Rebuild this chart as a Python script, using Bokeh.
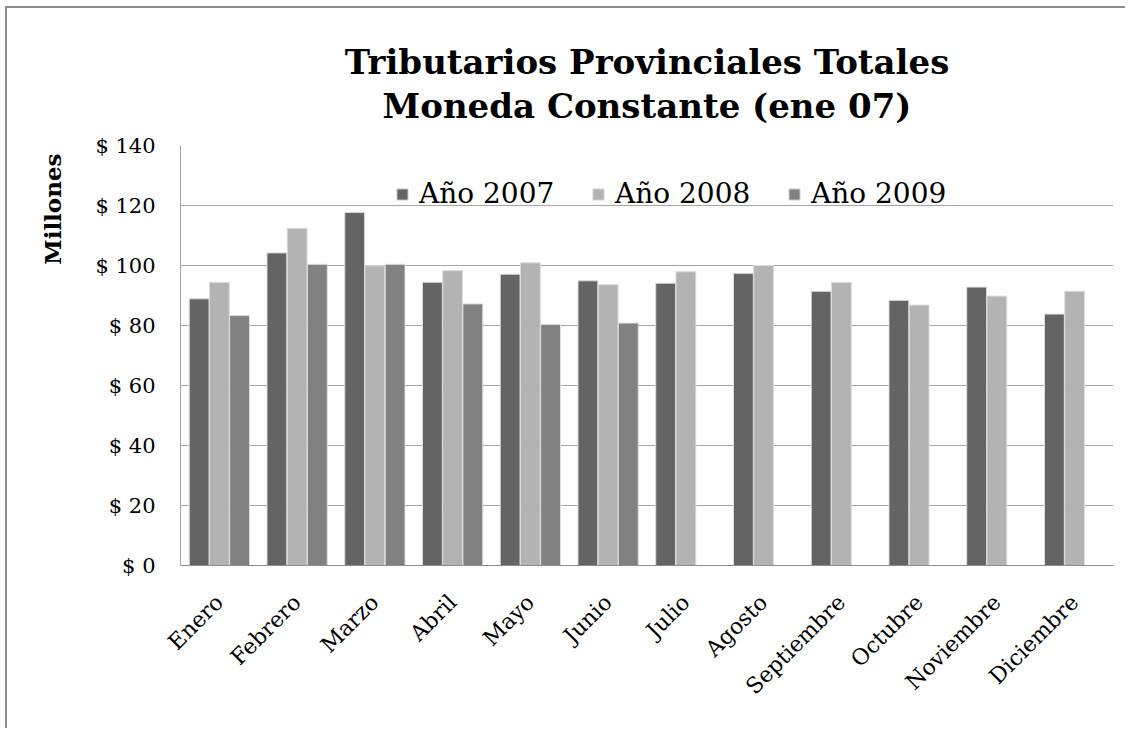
import numpy as np
from math import pi
from bokeh.plotting import figure
from bokeh.models import ColumnDataSource, FactorRange, FixedTicker, Title
from bokeh.transform import dodge
from bokeh.embed import file_html
from bokeh.resources import INLINE

months = ["Enero", "Febrero", "Marzo", "Abril", "Mayo", "Junio", "Julio",
          "Agosto", "Septiembre", "Octubre", "Noviembre", "Diciembre"]
y2007 = [88.9, 104.2, 117.7, 94.4, 97.1, 94.9, 94.1, 97.4, 91.4, 88.4, 92.8, 83.8]
y2008 = [94.4, 112.4, 99.9, 98.3, 100.9, 93.6, 97.9, 100.0, 94.4, 86.8, 89.8, 91.4]
y2009 = [83.3, 100.4, 100.4, 87.2, 80.3, 80.8, None, None, None, None, None, None]
series_names = ["Año 2007", "Año 2008", "Año 2009"]
series_colors = ["#646464", "#b3b3b3", "#818181"]
y_ticks = [0, 20, 40, 60, 80, 100, 120, 140]
y_tick_labels = ["$ 0", "$ 20", "$ 40", "$ 60", "$ 80", "$ 100", "$ 120", "$ 140"]
title_lines = ["Tributarios Provinciales Totales", "Moneda Constante (ene 07)"]
y_title = "Millones"

FONT = "DejaVu Serif"

src = ColumnDataSource(data=dict(
    month=months,
    y2007=np.array(y2007, dtype=float),
    y2008=np.array(y2008, dtype=float),
    y2009=np.array([np.nan if v is None else v for v in y2009], dtype=float),
))

p = figure(x_range=FactorRange(factors=months), y_range=(0, 140),
           width=1120, height=722, output_backend="svg", toolbar_location=None,
           min_border_left=173, min_border_right=14, min_border_top=137,
           min_border_bottom=165)
p.styles = {"margin-left": "5px", "margin-top": "6px",
            "border-left": "2px solid #8c8c8c", "border-top": "2px solid #8c8c8c"}

# spacer between the frame and the two title lines
p.add_layout(Title(text="\u00a0", text_font_size="1px", standoff=17), "above")
p.add_layout(Title(text=title_lines[1], align="center", text_font=FONT,
                   text_font_size="34px", text_font_style="bold",
                   text_color="black", standoff=0), "above")
p.title.text = title_lines[0]
p.title.align = "center"
p.title.text_font = FONT
p.title.text_font_size = "34px"
p.title.text_font_style = "bold"
p.title.text_color = "black"
p.title.standoff = 4

p.add_layout(Title(text=y_title, align="right", text_font=FONT,
                   text_font_size="23px", text_font_style="bold",
                   text_color="black", standoff=54, offset=8), "left")

offsets = [-0.26, 0.0, 0.26]
cols = ["y2007", "y2008", "y2009"]
for col, off, name, color in zip(cols, offsets, series_names, series_colors):
    p.vbar(x=dodge("month", off, range=p.x_range), top=col, width=0.255,
           source=src, fill_color=color, line_color="#dcdcdc", line_width=1,
           legend_label=name)

p.outline_line_color = None
p.background_fill_color = "white"
p.border_fill_color = "white"

p.xgrid.grid_line_color = None
p.ygrid.grid_line_color = "#a6a6a6"
p.ygrid.grid_line_width = 1
p.ygrid.ticker = FixedTicker(ticks=y_ticks)

p.yaxis.ticker = FixedTicker(ticks=y_ticks)
p.yaxis.major_label_overrides = {t: l for t, l in zip(y_ticks, y_tick_labels)}
p.yaxis.major_label_text_font = FONT
p.yaxis.major_label_text_font_size = "21px"
p.yaxis.major_label_text_color = "black"
p.yaxis.major_label_standoff = 25
p.yaxis.major_tick_out = 0
p.yaxis.major_tick_in = 0
p.yaxis.minor_tick_line_color = None
p.yaxis.axis_line_color = "#a6a6a6"

p.xaxis.major_label_orientation = pi / 4
p.xaxis.major_label_text_font = FONT
p.xaxis.major_label_text_font_size = "22px"
p.xaxis.major_label_text_color = "black"
p.xaxis.major_label_standoff = 33
p.xaxis.major_tick_out = 0
p.xaxis.major_tick_in = 0
p.xaxis.axis_line_color = "#8c8c8c"

lg = p.legend[0]
lg.orientation = "horizontal"
lg.location = (215, 355)
lg.label_text_font = FONT
lg.label_text_font_size = "28px"
lg.label_text_color = "black"
lg.glyph_width = 14
lg.glyph_height = 14
lg.label_standoff = 10
lg.label_width = 140
lg.spacing = 32
lg.padding = 0
lg.margin = 0
lg.border_line_color = None
lg.background_fill_alpha = 0

open("out.html", "w").write(file_html(p, INLINE))
